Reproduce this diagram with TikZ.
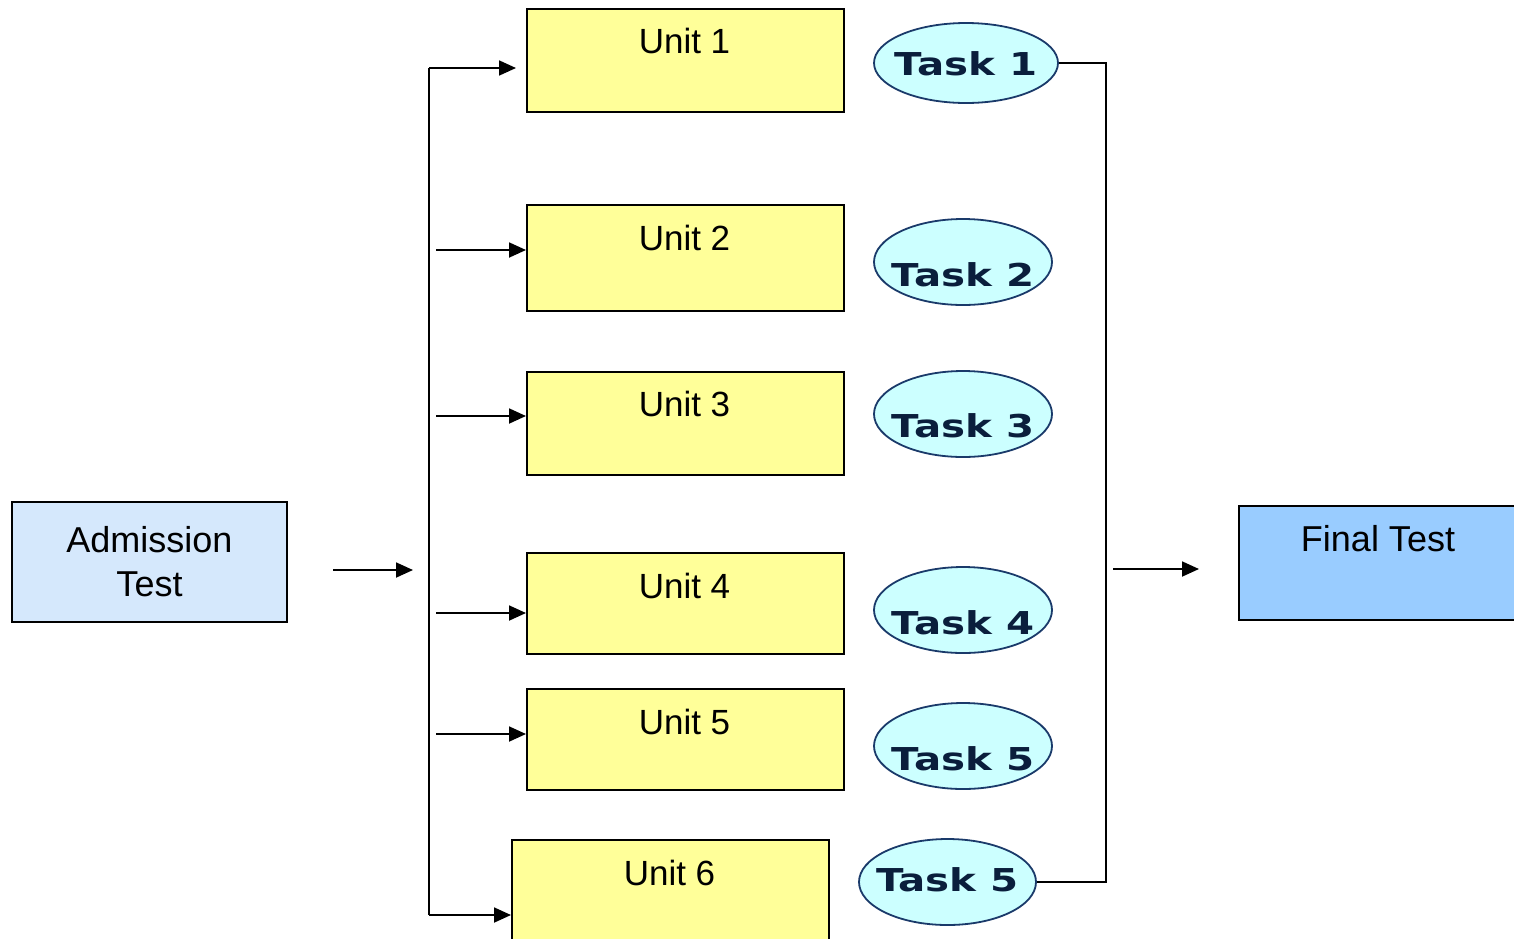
\documentclass[tikz,border=0pt]{standalone}
\usepackage{fontspec}
\setmainfont{Liberation Sans}
\newfontfamily\taskfont{DejaVu Sans}
\usetikzlibrary{arrows.meta,shapes.geometric}
\definecolor{unitfill}{HTML}{FFFF99}
\definecolor{admfill}{HTML}{D5E8FC}
\definecolor{finfill}{HTML}{99CCFF}
\definecolor{taskfill}{HTML}{CCFFFF}
\definecolor{taskline}{HTML}{1A3A6A}
\definecolor{tasktext}{HTML}{0A1E3C}
\tikzset{
  unitbox/.style={draw=black, line width=1.8pt, fill=unitfill, minimum width=317pt, anchor=north west, inner sep=0pt},
  unitlabel/.style={font=\fontsize{35}{40}\selectfont, inner sep=0pt, anchor=north},
  taskell/.style={ellipse, draw=taskline, line width=1.8pt, fill=taskfill, inner sep=0pt},
  tasklabel/.style={font=\taskfont\bfseries\fontsize{31.5}{36}\selectfont, text=tasktext, inner sep=0pt},
  conn/.style={line width=1.8pt, draw=black},
  arr/.style={conn, -{Triangle[length=17pt,width=15pt]}}
}
\newcommand{\tk}[1]{\scalebox{1.28}[1]{#1}}
\begin{document}
\begin{tikzpicture}[x=1pt,y=-1pt]
\useasboundingbox (0,0) rectangle (1514,938);
\clip (0,0) rectangle (1514,938);
\fill[white] (0,0) rectangle (1514,938);

% Admission
\node[draw=black, line width=1.8pt, fill=admfill, minimum width=275pt, minimum height=120pt, inner sep=0pt,
      align=center, font=\fontsize{36}{44}\selectfont] (adm) at (149.5,562) {Admission\\Test};

% Units
\node[unitbox, minimum height=103pt] (u1) at (526,8) {};
\node[unitbox, minimum height=106pt] (u2) at (526,204) {};
\node[unitbox, minimum height=103pt] (u3) at (526,371) {};
\node[unitbox, minimum height=101pt] (u4) at (526,552) {};
\node[unitbox, minimum height=101pt] (u5) at (526,688) {};
\node[unitbox, minimum height=120pt] (u6) at (511,839) {};
\node[unitlabel] (t1) at (684.5,28) {Unit 1};
\node[unitlabel] (t2) at (684.5,225) {Unit 2};
\node[unitlabel] (t3) at (684.5,391) {Unit 3};
\node[unitlabel] (t4) at (684.5,573) {Unit 4};
\node[unitlabel] (t5) at (684.5,709) {Unit 5};
\node[unitlabel] (t6) at (669.5,860) {Unit 6};

% Tasks
\node[taskell, minimum width=184pt, minimum height=80pt] (k1) at (966,63) {};
\node[taskell, minimum width=178pt, minimum height=86pt] (k2) at (963,262) {};
\node[taskell, minimum width=178pt, minimum height=86pt] (k3) at (963,414) {};
\node[taskell, minimum width=178pt, minimum height=86pt] (k4) at (963,610) {};
\node[taskell, minimum width=178pt, minimum height=86pt] (k5) at (963,746) {};
\node[taskell, minimum width=177pt, minimum height=86pt] (k6) at (947.5,882) {};
\node[tasklabel] (l1) at (966,64) {\tk{Task 1}};
\node[tasklabel] (l2) at (963,275) {\tk{Task 2}};
\node[tasklabel] (l3) at (963,426) {\tk{Task 3}};
\node[tasklabel] (l4) at (963,623) {\tk{Task 4}};
\node[tasklabel] (l5) at (963,759) {\tk{Task 5}};
\node[tasklabel] (l6) at (947.5,880) {\tk{Task 5}};

% Final
\node[draw=black, line width=1.8pt, fill=finfill, minimum width=290pt, minimum height=114pt, inner sep=0pt, anchor=north west] (fin) at (1238,505) {};
\node[font=\fontsize{36}{40}\selectfont, inner sep=0pt, anchor=north] (finl) at (1378,525) {Final Test};

% coordinates
\coordinate (a0) at (333,570);
\coordinate (a1) at (413,570);
\coordinate (vt) at (429,68);
\coordinate (vb) at (429,915);
\coordinate (s2) at (436,250);
\coordinate (s3) at (436,416);
\coordinate (s4) at (436,613);
\coordinate (s5) at (436,734);
\coordinate (rx) at (1106,0);
\coordinate (f0) at (1113,569);
\coordinate (f1) at (1199,569);

% connectors
\draw[arr] (a0) -- (a1);
\draw[conn] (vb) -- (vt);
\draw[arr, shorten >=10pt] (vt) -- (u1.west |- vt);
\draw[arr] (vb) -- (u6.west |- vb);
\draw[arr] (s2) -- (u2.west |- s2);
\draw[arr] (s3) -- (u3.west |- s3);
\draw[arr] (s4) -- (u4.west |- s4);
\draw[arr] (s5) -- (u5.west |- s5);
\draw[conn] (k1.east) -- (rx |- k1.east) -- (rx |- k6.east) -- (k6.east);
\draw[arr] (f0) -- (f1);
\end{tikzpicture}
\end{document}
